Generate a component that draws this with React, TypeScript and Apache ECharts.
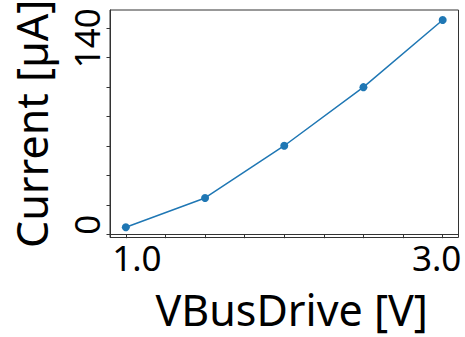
import React, { useEffect, useRef } from "react";
import * as echarts from "echarts";

const voltages = [1.0, 1.5, 2.0, 2.5, 3.0];
const currents = [5.1, 24.9, 60.3, 100.0, 145.5];
const xTicks = [1.0, 1.25, 1.5, 1.75, 2.0, 2.25, 2.5, 2.75, 3.0];
const xLabels = [1.0, 3.0];
const yTicks = [0, 20, 40, 60, 80, 100, 120, 140];
const yLabels = [0, 140];

const FONT = "Noto Sans";

export default function App() {
  const ref = useRef<HTMLDivElement>(null);
  useEffect(() => {
    if (!ref.current) return;
    const chart = echarts.init(ref.current, null, { renderer: "svg" });
    chart.setOption({
      animation: false,
      grid: {
        left: 110,
        right: 6.5,
        top: 10,
        bottom: 99.5,
        show: true,
        borderColor: "#333",
        borderWidth: 1,
        outerBoundsMode: "none",
        containLabel: false,
      },
      xAxis: {
        type: "value",
        min: 0.9,
        max: 3.1,
        name: "VBusDrive [V]",
        nameLocation: "middle",
        nameGap: 50,
        nameTextStyle: {
          fontSize: 43,
          fontFamily: FONT,
          color: "#000",
          padding: [0, 0, 0, 15],
        },
        splitLine: { show: false },
        axisLine: { show: true, lineStyle: { color: "#333", width: 1 } },
        axisTick: {
          show: true,
          customValues: xTicks,
          length: 3.5,
          lineStyle: { color: "#333" },
        },
        axisLabel: {
          customValues: xLabels,
          margin: 2,
          fontFamily: FONT,
          fontSize: 35,
          color: "#000",
          formatter: (v: number) =>
            v === xLabels[0] ? "{a|" + v.toFixed(1) + "}" : "{b|" + v.toFixed(1) + "}",
          rich: {
            a: { fontSize: 35, fontFamily: FONT, color: "#000", padding: [0, 0, 0, 22] },
            b: { fontSize: 35, fontFamily: FONT, color: "#000", padding: [0, 12, 0, 0] },
          },
        },
      },
      yAxis: {
        type: "value",
        min: -1.9,
        max: 152.3,
        name: "Current [µA]",
        nameLocation: "middle",
        nameGap: 57,
        nameTextStyle: {
          fontSize: 43,
          fontFamily: FONT,
          color: "#000",
        },
        splitLine: { show: false },
        axisLine: { show: true, lineStyle: { color: "#333", width: 1 } },
        axisTick: {
          show: true,
          customValues: yTicks,
          length: 3.5,
          lineStyle: { color: "#333" },
        },
        axisLabel: {
          customValues: yLabels,
          rotate: 90,
          margin: 6,
          fontFamily: FONT,
          fontSize: 35,
          color: "#000",
          formatter: (v: number) =>
            v === yLabels[0] ? "{a|" + v + "}" : "{b|" + v + "}",
          rich: {
            a: { fontSize: 35, fontFamily: FONT, color: "#000", padding: [0, 0, 0, 20] },
            b: { fontSize: 35, fontFamily: FONT, color: "#000", padding: [0, 20, 0, 0] },
          },
        },
      },
      series: [
        {
          type: "line",
          data: voltages.map((v, i) => [v, currents[i]]),
          symbol: "circle",
          symbolSize: 8,
          lineStyle: { color: "#1f77b4", width: 1.5 },
          itemStyle: { color: "#1f77b4" },
        },
      ],
    });
    return () => chart.dispose();
  }, []);
  return <div ref={ref} style={{ width: 465, height: 337, position: "absolute", left: 0, top: 0 }} />;
}
